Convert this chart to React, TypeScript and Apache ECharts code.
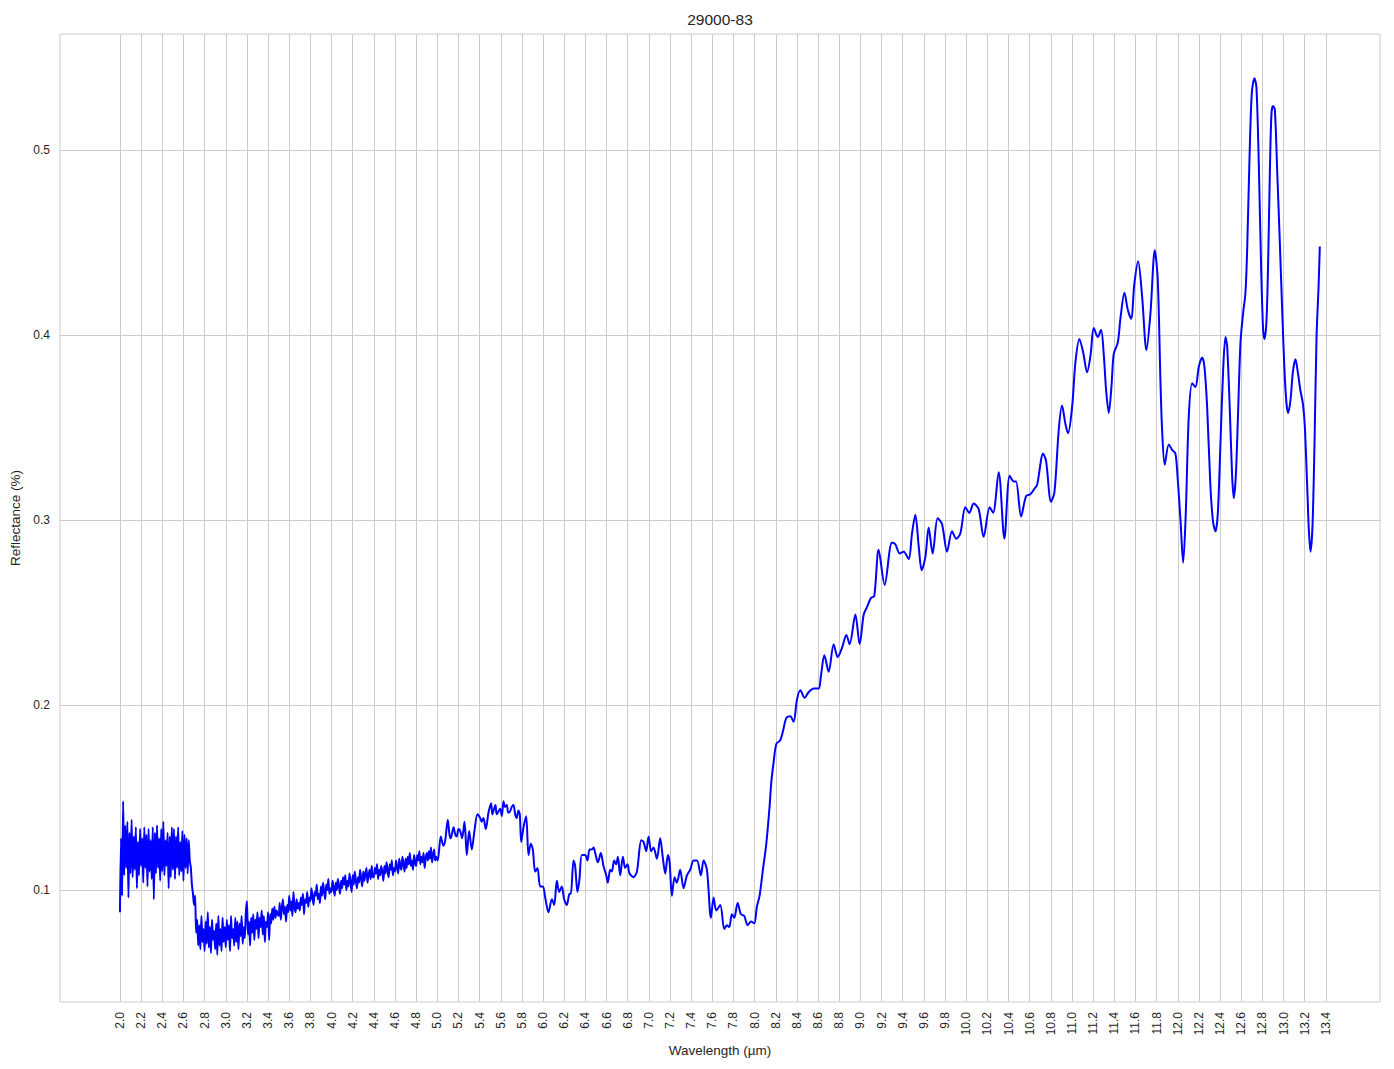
import React, { useEffect, useRef } from "react";
import * as echarts from "echarts";

const TITLE = "29000-83";
const X_NAME = "Wavelength (µm)";
const Y_NAME = "Reflectance (%)";

const xTicks = [
  2.0, 2.2, 2.4, 2.6, 2.8, 3.0, 3.2, 3.4, 3.6, 3.8, 4.0, 4.2, 4.4, 4.6, 4.8,
  5.0, 5.2, 5.4, 5.6, 5.8, 6.0, 6.2, 6.4, 6.6, 6.8, 7.0, 7.2, 7.4, 7.6, 7.8,
  8.0, 8.2, 8.4, 8.6, 8.8, 9.0, 9.2, 9.4, 9.6, 9.8, 10.0, 10.2, 10.4, 10.6,
  10.8, 11.0, 11.2, 11.4, 11.6, 11.8, 12.0, 12.2, 12.4, 12.6, 12.8, 13.0,
  13.2, 13.4,
];
const yTicks = [0.1, 0.2, 0.3, 0.4, 0.5];

// Noisy short-wave region, sampled every 0.01 µm from 2.00 µm
const band1Start = 2.0;
const band1Step = 0.01;
const band1 = [
  0.088, 0.128, 0.097, 0.148, 0.108, 0.135, 0.112, 0.137, 0.096, 0.131,
  0.109, 0.138, 0.107, 0.129, 0.111, 0.134, 0.101, 0.126, 0.108, 0.133,
  0.113, 0.128, 0.104, 0.134, 0.112, 0.130, 0.102, 0.133, 0.110, 0.127,
  0.106, 0.134, 0.095, 0.131, 0.109, 0.135, 0.112, 0.128, 0.105, 0.133,
  0.110, 0.137, 0.108, 0.127, 0.113, 0.131, 0.101, 0.129, 0.107, 0.134,
  0.111, 0.133, 0.106, 0.129, 0.112, 0.134, 0.108, 0.126, 0.110, 0.132,
  0.105, 0.130, 0.112, 0.128, 0.109, 0.127, 0.116, 0.112, 0.103, 0.098,
];

// Noisy trough, sampled every 0.01 µm from 2.70 µm
const band2Start = 2.7;
const band2Step = 0.01;
const band2 = [
  0.092, 0.097, 0.077, 0.084, 0.070, 0.081, 0.068, 0.086, 0.072, 0.079,
  0.067, 0.083, 0.071, 0.088, 0.069, 0.080, 0.066, 0.084, 0.073, 0.078,
  0.068, 0.082, 0.065, 0.086, 0.070, 0.079, 0.067, 0.085, 0.072, 0.080,
  0.069, 0.084, 0.073, 0.081, 0.067, 0.086, 0.074, 0.079, 0.070, 0.085,
  0.072, 0.083, 0.068, 0.082, 0.075, 0.086, 0.071, 0.080, 0.074, 0.088,
  0.094, 0.076, 0.083, 0.070, 0.085, 0.077, 0.087, 0.073, 0.084, 0.079,
  0.088, 0.074, 0.085, 0.080, 0.089, 0.076, 0.086, 0.072, 0.083, 0.080,
  0.088, 0.073, 0.087, 0.082, 0.090, 0.084, 0.091, 0.085, 0.089, 0.087,
];

// Rising noisy slope, sampled every 0.01 µm from 3.50 µm
const band3Start = 3.5;
const band3Step = 0.01;
const band3 = [
  0.086, 0.093, 0.084, 0.090, 0.095, 0.087, 0.091, 0.083, 0.092, 0.088,
  0.097, 0.089, 0.094, 0.086, 0.099, 0.091, 0.088, 0.095, 0.090, 0.093,
  0.089, 0.096, 0.092, 0.098, 0.087, 0.095, 0.093, 0.099, 0.091, 0.096,
  0.094, 0.101, 0.096, 0.092, 0.099, 0.097, 0.103, 0.095, 0.098, 0.093,
  0.102, 0.097, 0.104, 0.099, 0.095, 0.103, 0.100, 0.106, 0.098, 0.101,
  0.099, 0.105, 0.101, 0.097, 0.104, 0.100, 0.106, 0.102, 0.098, 0.105,
  0.101, 0.107, 0.103, 0.108, 0.100, 0.105, 0.102, 0.109, 0.104, 0.099,
  0.108, 0.103, 0.110, 0.105, 0.101, 0.107, 0.104, 0.111, 0.106, 0.102,
  0.110, 0.105, 0.109, 0.112, 0.104, 0.108, 0.111, 0.106, 0.113, 0.107,
  0.107, 0.112, 0.109, 0.114, 0.106, 0.111, 0.108, 0.113, 0.110, 0.105,
  0.113, 0.109, 0.115, 0.110, 0.107, 0.114, 0.111, 0.116, 0.108, 0.112,
  0.110, 0.116, 0.112, 0.109, 0.117, 0.113, 0.111, 0.118, 0.114, 0.110,
  0.117, 0.112, 0.118, 0.114, 0.120, 0.113, 0.116, 0.111, 0.119, 0.115,
  0.113, 0.119, 0.116, 0.121, 0.114, 0.118, 0.115, 0.120, 0.112, 0.117,
  0.120, 0.116, 0.121, 0.117, 0.123, 0.115, 0.119, 0.122, 0.116, 0.118,
];

// Mid-wave features (wavelength µm, reflectance)
const band4: [number, number][] = [
  [5.004, 0.116], [5.033, 0.129], [5.058, 0.124], [5.075, 0.127], [5.099, 0.138],
  [5.115, 0.130], [5.127, 0.128], [5.153, 0.134], [5.17, 0.130], [5.184, 0.129],
  [5.2, 0.133], [5.216, 0.132], [5.235, 0.128], [5.257, 0.137], [5.279, 0.119],
  [5.301, 0.132], [5.326, 0.122], [5.351, 0.132], [5.38, 0.141], [5.405, 0.139],
  [5.42, 0.137], [5.436, 0.139], [5.458, 0.133], [5.484, 0.142], [5.509, 0.147],
  [5.52, 0.141], [5.537, 0.144], [5.55, 0.146], [5.562, 0.141], [5.594, 0.144],
  [5.61, 0.140], [5.626, 0.148], [5.64, 0.145], [5.657, 0.146], [5.67, 0.142],
  [5.682, 0.142], [5.704, 0.145], [5.72, 0.146], [5.736, 0.141], [5.75, 0.139],
  [5.767, 0.143], [5.78, 0.141], [5.793, 0.126], [5.815, 0.134], [5.84, 0.140],
  [5.862, 0.119], [5.884, 0.125], [5.903, 0.122], [5.925, 0.110], [5.947, 0.112],
  [5.972, 0.102], [5.998, 0.102], [6.02, 0.096], [6.051, 0.088], [6.083, 0.095],
  [6.105, 0.092], [6.13, 0.105], [6.152, 0.099], [6.177, 0.102], [6.199, 0.095],
  [6.225, 0.092], [6.25, 0.098], [6.262, 0.098], [6.288, 0.116], [6.303, 0.113],
  [6.325, 0.099], [6.344, 0.106], [6.366, 0.119], [6.398, 0.119], [6.42, 0.116],
  [6.439, 0.122], [6.461, 0.122], [6.477, 0.123], [6.493, 0.120], [6.518, 0.115],
  [6.546, 0.120], [6.571, 0.113], [6.597, 0.108], [6.612, 0.104], [6.634, 0.111],
  [6.65, 0.110], [6.672, 0.116], [6.691, 0.114], [6.707, 0.118], [6.729, 0.108],
  [6.754, 0.118], [6.776, 0.112], [6.798, 0.114], [6.817, 0.109], [6.855, 0.107],
  [6.887, 0.110], [6.928, 0.127], [6.95, 0.126], [6.975, 0.121], [6.997, 0.129],
  [7.022, 0.121], [7.044, 0.123], [7.076, 0.117], [7.107, 0.128], [7.133, 0.117],
  [7.155, 0.109], [7.18, 0.119], [7.196, 0.115], [7.218, 0.097], [7.243, 0.107],
  [7.265, 0.104], [7.296, 0.111], [7.328, 0.101], [7.36, 0.108], [7.391, 0.111],
  [7.423, 0.116], [7.454, 0.116], [7.492, 0.108], [7.517, 0.116], [7.549, 0.111],
  [7.587, 0.085], [7.612, 0.096], [7.637, 0.089], [7.675, 0.092], [7.713, 0.079],
  [7.738, 0.081], [7.76, 0.080], [7.785, 0.087], [7.807, 0.085], [7.839, 0.093],
  [7.87, 0.087], [7.902, 0.086], [7.933, 0.081], [7.965, 0.083], [7.996, 0.082],
  [8.021, 0.091], [8.047, 0.097], [8.078, 0.111], [8.11, 0.125],
];

// Long-wave features (wavelength µm, reflectance)
const band5: [number, number][] = [
  [8.141, 0.145], [8.157, 0.158], [8.179, 0.169], [8.205, 0.179], [8.242, 0.181],
  [8.268, 0.186], [8.299, 0.193], [8.337, 0.194], [8.368, 0.191], [8.4, 0.203],
  [8.432, 0.208], [8.472, 0.204], [8.51, 0.207], [8.558, 0.209], [8.605, 0.209],
  [8.627, 0.216], [8.659, 0.227], [8.7, 0.218], [8.747, 0.233], [8.785, 0.226],
  [8.826, 0.231], [8.867, 0.238], [8.898, 0.233], [8.952, 0.249], [8.993, 0.233],
  [9.031, 0.249], [9.062, 0.253], [9.1, 0.258], [9.131, 0.259], [9.172, 0.284],
  [9.229, 0.265], [9.298, 0.288], [9.33, 0.287], [9.371, 0.282], [9.409, 0.283],
  [9.456, 0.279], [9.488, 0.293], [9.519, 0.303], [9.551, 0.286], [9.579, 0.273],
  [9.614, 0.280], [9.645, 0.296], [9.683, 0.282], [9.73, 0.301], [9.771, 0.298],
  [9.819, 0.283], [9.866, 0.294], [9.907, 0.290], [9.945, 0.293], [9.992, 0.307],
  [10.03, 0.304], [10.071, 0.309], [10.118, 0.306], [10.165, 0.291], [10.222, 0.307],
  [10.254, 0.304], [10.307, 0.326], [10.361, 0.290], [10.411, 0.324], [10.449, 0.321],
  [10.471, 0.321], [10.519, 0.302], [10.566, 0.313], [10.607, 0.314], [10.645, 0.317],
  [10.67, 0.319], [10.727, 0.336], [10.755, 0.332], [10.802, 0.310], [10.834, 0.315],
  [10.875, 0.349], [10.906, 0.362], [10.938, 0.352], [10.963, 0.347], [11.001, 0.361],
  [11.032, 0.385], [11.07, 0.398], [11.105, 0.391], [11.143, 0.380], [11.175, 0.389],
  [11.206, 0.404], [11.244, 0.399], [11.275, 0.403], [11.3, 0.390], [11.323, 0.370],
  [11.348, 0.358], [11.373, 0.372], [11.395, 0.390], [11.433, 0.396], [11.458, 0.409],
  [11.496, 0.423], [11.527, 0.414], [11.559, 0.409], [11.59, 0.428], [11.625, 0.440],
  [11.663, 0.421], [11.704, 0.392], [11.742, 0.412], [11.783, 0.446], [11.811, 0.430],
  [11.836, 0.376], [11.852, 0.349], [11.877, 0.330], [11.915, 0.341], [11.947, 0.338],
  [11.978, 0.336], [12.0, 0.322], [12.026, 0.300], [12.051, 0.277], [12.076, 0.304],
  [12.104, 0.356], [12.136, 0.374], [12.167, 0.372], [12.199, 0.383], [12.231, 0.388],
  [12.252, 0.383], [12.278, 0.361], [12.309, 0.318], [12.334, 0.299], [12.357, 0.294],
  [12.379, 0.304], [12.404, 0.342], [12.429, 0.381], [12.451, 0.399], [12.467, 0.394],
  [12.492, 0.360], [12.514, 0.324], [12.53, 0.312], [12.549, 0.324], [12.568, 0.354],
  [12.593, 0.396], [12.618, 0.412], [12.64, 0.423], [12.656, 0.446], [12.678, 0.495],
  [12.7, 0.531], [12.725, 0.539], [12.744, 0.534], [12.766, 0.493], [12.788, 0.437],
  [12.807, 0.403], [12.82, 0.398], [12.839, 0.408], [12.855, 0.441], [12.87, 0.486],
  [12.886, 0.520], [12.902, 0.524], [12.918, 0.522], [12.94, 0.489], [12.962, 0.455],
  [12.987, 0.414], [13.009, 0.381], [13.028, 0.363], [13.044, 0.358], [13.066, 0.365],
  [13.088, 0.380], [13.113, 0.387], [13.135, 0.380], [13.16, 0.370], [13.183, 0.363],
  [13.201, 0.351], [13.224, 0.318], [13.239, 0.295], [13.255, 0.283], [13.274, 0.297],
  [13.293, 0.342], [13.312, 0.399], [13.331, 0.426], [13.343, 0.448],
];

function sampled(start: number, step: number, values: number[]): [number, number][] {
  return values.map((v, i) => [Number((start + i * step).toFixed(3)), v]);
}

const TEXT = "#262626";
const GRIDC = "#cccccc";
const FONT = "'Liberation Sans', Arial, sans-serif";

export default function App() {
  const ref = useRef<HTMLDivElement>(null);

  useEffect(() => {
    if (!ref.current) return;
    const chart = echarts.init(ref.current, undefined, { renderer: "svg" });
    const data = [
      ...sampled(band1Start, band1Step, band1),
      ...sampled(band2Start, band2Step, band2),
      ...sampled(band3Start, band3Step, band3),
      ...band4,
      ...band5,
    ];
    chart.setOption({
      animation: false,
      backgroundColor: "#ffffff",
      textStyle: { fontFamily: FONT },
      title: {
        text: TITLE,
        left: 720,
        top: 11,
        textAlign: "center",
        padding: 0,
        textStyle: { fontSize: 15.5, fontWeight: "normal", color: TEXT, fontFamily: FONT },
      },
      grid: {
        left: 60,
        right: 14,
        top: 34,
        bottom: 67,
        show: true,
        borderColor: GRIDC,
        borderWidth: 1,
        backgroundColor: "transparent",
        outerBoundsMode: "none",
      },
      xAxis: {
        type: "value",
        min: 1.433,
        max: 13.912,
        name: X_NAME,
        nameLocation: "middle",
        nameGap: 38,
        nameTextStyle: { fontSize: 13.5, color: TEXT, fontFamily: FONT },
        axisLine: { show: false },
        axisTick: { show: false, customValues: xTicks },
        axisLabel: {
          customValues: xTicks,
          rotate: 90,
          margin: 10,
          fontSize: 12,
          color: TEXT,
          fontFamily: FONT,
          formatter: (v: number) => v.toFixed(1),
        },
        splitLine: { show: true, lineStyle: { color: GRIDC, width: 1 } },
      },
      yAxis: {
        type: "value",
        min: 0.0395,
        max: 0.5629,
        name: Y_NAME,
        nameLocation: "middle",
        nameGap: 36,
        nameTextStyle: { fontSize: 13.5, color: TEXT, fontFamily: FONT },
        axisLine: { show: false },
        axisTick: { show: false, customValues: yTicks },
        axisLabel: {
          customValues: yTicks,
          margin: 10,
          fontSize: 12,
          color: TEXT,
          fontFamily: FONT,
          formatter: (v: number) => String(v),
        },
        splitLine: { show: true, lineStyle: { color: GRIDC, width: 1 } },
      },
      series: [
        {
          type: "line",
          data,
          showSymbol: false,
          symbol: "none",
          smooth: 0.3,
          lineStyle: { color: "#0000ff", width: 2 },
          itemStyle: { color: "#0000ff" },
          z: 5,
        },
      ],
    });
    return () => chart.dispose();
  }, []);

  return (
    <div
      ref={ref}
      style={{ position: "fixed", left: 0, top: 0, width: 1394, height: 1069 }}
    />
  );
}
